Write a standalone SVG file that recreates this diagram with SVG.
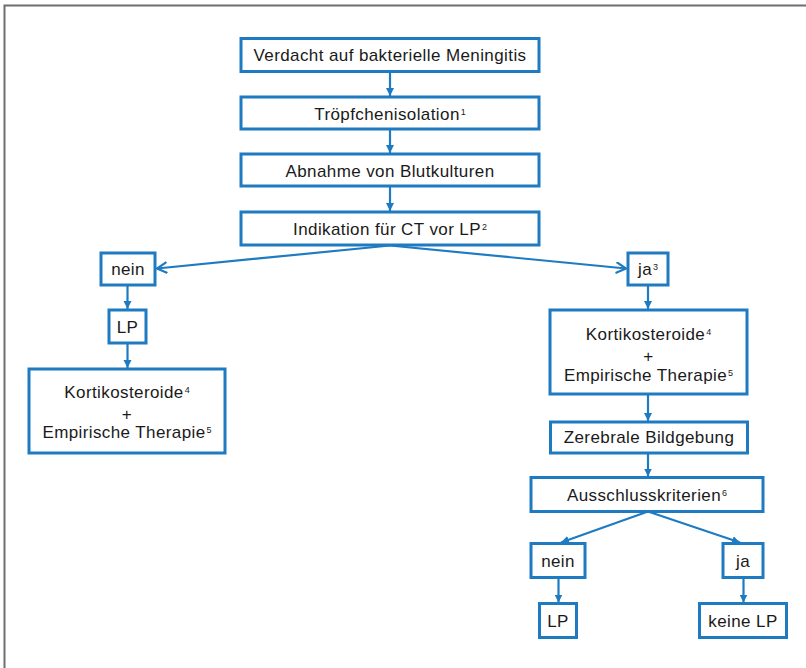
<svg xmlns="http://www.w3.org/2000/svg" width="806" height="668" viewBox="0 0 806 668">
<style>
.box{fill:#fff;stroke:#1f7bc1;stroke-width:3}
.t{font-family:"Liberation Sans",Arial,sans-serif;font-size:17px;letter-spacing:0.4px;fill:#1a1a1a;text-anchor:middle}
.sup{font-size:9px;letter-spacing:0}
.c{stroke:#1f7bc1;stroke-width:2.2;fill:none}
.frame{stroke:#6e6e6e;stroke-width:2;fill:none}
</style>
<defs>
<marker id="ah" markerUnits="userSpaceOnUse" markerWidth="9" markerHeight="9" refX="8" refY="4" orient="auto">
<path d="M0,0 L8,4 L0,8 z" fill="#1f7bc1"/>
</marker>
<marker id="chev" markerUnits="userSpaceOnUse" markerWidth="14" markerHeight="14" refX="11" refY="6" orient="auto">
<path d="M1,0.5 L11,6 L1,11.5" fill="none" stroke="#1f7bc1" stroke-width="2.2"/>
</marker>
</defs>
<path class="frame" d="M4,5.5 H806 M4.5,4.5 V668"/>
<g id="connectors">
<line class="c" x1="390" y1="72" x2="390" y2="96" marker-end="url(#ah)"/>
<line class="c" x1="390" y1="129" x2="390" y2="153" marker-end="url(#ah)"/>
<line class="c" x1="390" y1="186" x2="390" y2="211" marker-end="url(#ah)"/>
<line class="c" x1="390" y1="245.5" x2="157" y2="268.5" marker-end="url(#chev)"/>
<line class="c" x1="390" y1="245.5" x2="626" y2="268.5" marker-end="url(#chev)"/>
<line class="c" x1="127.5" y1="285" x2="127.5" y2="309" marker-end="url(#ah)"/>
<line class="c" x1="127.5" y1="343" x2="127.5" y2="368" marker-end="url(#ah)"/>
<line class="c" x1="648" y1="285" x2="648" y2="309" marker-end="url(#ah)"/>
<line class="c" x1="648" y1="394" x2="648" y2="421" marker-end="url(#ah)"/>
<line class="c" x1="648" y1="453" x2="648" y2="476.5" marker-end="url(#ah)"/>
<line class="c" x1="648" y1="511.5" x2="561" y2="542.5" marker-end="url(#ah)"/>
<line class="c" x1="648" y1="511.5" x2="740" y2="542.5" marker-end="url(#ah)"/>
<line class="c" x1="558.5" y1="577.5" x2="558.5" y2="602.5" marker-end="url(#ah)"/>
<line class="c" x1="743.5" y1="577.5" x2="743.5" y2="602.5" marker-end="url(#ah)"/>
</g>
<g id="n1"><rect class="box" x="241" y="38.5" width="298" height="33"/><text class="t" x="390" y="61">Verdacht auf bakterielle Meningitis</text></g>
<g id="n2"><rect class="box" x="241" y="97" width="298" height="32"/><text class="t" x="390" y="120">Tröpfchenisolation<tspan class="sup" dx="1" dy="-5">1</tspan></text></g>
<g id="n3"><rect class="box" x="241" y="154" width="298" height="32"/><text class="t" x="390" y="177">Abnahme von Blutkulturen</text></g>
<g id="n4"><rect class="box" x="241" y="212" width="298" height="33"/><text class="t" x="390" y="235">Indikation für CT vor LP<tspan class="sup" dx="1" dy="-5">2</tspan></text></g>
<g id="n5"><rect class="box" x="101" y="253" width="54" height="32"/><text class="t" x="128" y="275">nein</text></g>
<g id="n6"><rect class="box" x="109" y="310" width="37" height="33"/><text class="t" x="127.5" y="333">LP</text></g>
<g id="n7"><rect class="box" x="29" y="369" width="196" height="84"/>
<text class="t" x="127" y="398">Kortikosteroide<tspan class="sup" dx="1" dy="-5">4</tspan></text>
<text class="t" x="127" y="420">+</text>
<text class="t" x="127" y="438">Empirische Therapie<tspan class="sup" dx="1" dy="-5">5</tspan></text></g>
<g id="n8"><rect class="box" x="628" y="253" width="40" height="32"/><text class="t" x="648" y="275">ja<tspan class="sup" dx="1" dy="-5">3</tspan></text></g>
<g id="n9"><rect class="box" x="550" y="310" width="197" height="84"/>
<text class="t" x="648.5" y="340">Kortikosteroide<tspan class="sup" dx="1" dy="-5">4</tspan></text>
<text class="t" x="648.5" y="362">+</text>
<text class="t" x="648.5" y="381">Empirische Therapie<tspan class="sup" dx="1" dy="-5">5</tspan></text></g>
<g id="n10"><rect class="box" x="550.5" y="422" width="197" height="31"/><text class="t" x="649" y="443">Zerebrale Bildgebung</text></g>
<g id="n11"><rect class="box" x="531" y="477.5" width="232" height="34"/><text class="t" x="647" y="500.5">Ausschlusskriterien<tspan class="sup" dx="1" dy="-5">6</tspan></text></g>
<g id="n12"><rect class="box" x="531" y="543.5" width="54" height="34"/><text class="t" x="558" y="566.5">nein</text></g>
<g id="n13"><rect class="box" x="723" y="543.5" width="40" height="34"/><text class="t" x="743" y="566.5">ja</text></g>
<g id="n14"><rect class="box" x="539.5" y="603.5" width="37" height="34"/><text class="t" x="558" y="626.5">LP</text></g>
<g id="n15"><rect class="box" x="699.5" y="603.5" width="87" height="34"/><text class="t" x="743" y="626.5">keine LP</text></g>
</svg>
